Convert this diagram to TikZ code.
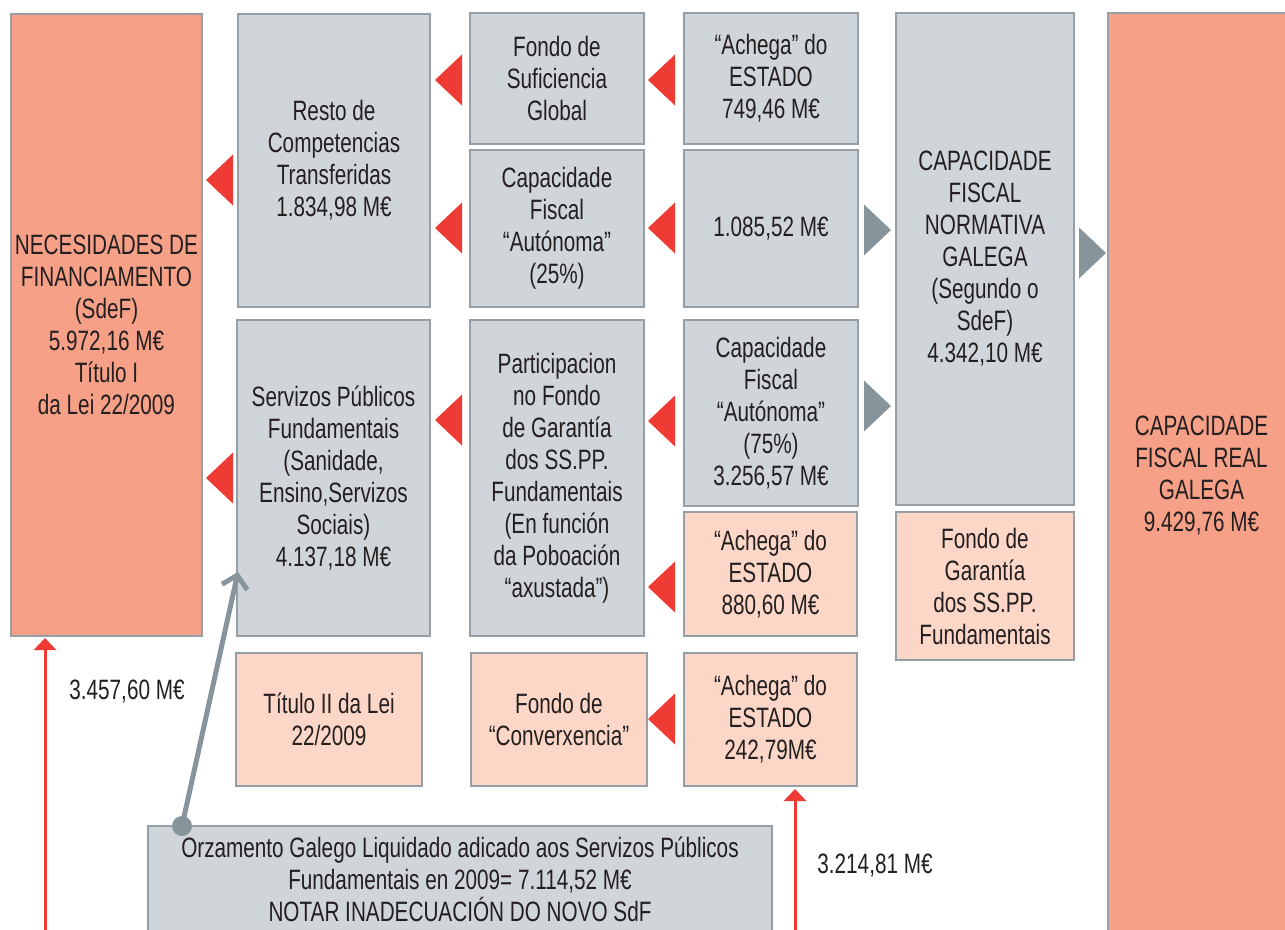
\documentclass[tikz,border=0pt]{standalone}
\usepackage{fontspec}
\setmainfont{Liberation Sans}[FakeStretch=0.74]
\usetikzlibrary{arrows.meta}

\definecolor{salmon}{HTML}{F6A088}
\definecolor{lightsalmon}{HTML}{FCD6C7}
\definecolor{greyfill}{HTML}{D0D5D9}
\definecolor{edge}{HTML}{969FA5}
\definecolor{redtri}{HTML}{EE3B33}
\definecolor{greytri}{HTML}{87949B}
\definecolor{txt}{HTML}{231F20}

\newcommand{\boxfont}{\fontsize{28}{32}\selectfont}

\begin{document}
\begin{tikzpicture}[x = 1pt, y = -1pt,
  box/.style = {draw = edge, line width = 1.5pt, text = txt, font = \boxfont, align = center, inner sep = 0pt},
  grey/.style = {box, fill = greyfill},
  dark/.style = {box, fill = salmon},
  light/.style = {box, fill = lightsalmon},
  label/.style = {text = txt, font = \boxfont, inner sep = 0pt},
  lefttri/.pic = {\fill [redtri] (0,0) -- (27,-25.5) -- (27,25.5) -- cycle;},
  righttri/.pic = {\fill [greytri] (0,0) -- (-27,-25.5) -- (-27,25.5) -- cycle;},
  span/.style = {draw = redtri, line width = 3pt, >={Triangle[length=12pt,width=22pt]}, <->},
  pointer/.style = {draw = greytri, line width = 5pt, >={Straight Barb[length=12pt,width=26pt]}, ->}
]

\useasboundingbox (0,0) rectangle (1285,929);
\clip (0,0) rectangle (1285,929);

\node [dark, minimum width = 191, minimum height = 622] (v1) at (106.5,325) {NECESIDADES DE\\FINANCIAMENTO\\(SdeF)\\5.972,16 M€\\Título I\\da Lei 22/2009};

\node [grey, minimum width = 192, minimum height = 293] (v2) at (334,160.5) {Resto de\\Competencias\\Transferidas\\1.834,98 M€};
\node [grey, minimum width = 193, minimum height = 316] (v9) at (333.5,478) {Servizos Públicos\\Fundamentais\\(Sanidade,\\Ensino,Servizos\\Sociais)\\4.137,18 M€};
\node [light, minimum width = 186, minimum height = 133] (v14) at (329,719.5) {Título II da Lei\\22/2009};

\node [grey, minimum width = 174, minimum height = 131] (v3) at (557,78.5) {Fondo de\\Suficiencia\\Global};
\node [grey, minimum width = 174, minimum height = 157] (v5) at (557,228.5) {Capacidade\\Fiscal\\“Autónoma”\\(25\%)};
\node [grey, minimum width = 174, minimum height = 316] (v10) at (557,478) {Participacion\\no Fondo\\de Garantía\\dos SS.PP.\\Fundamentais\\(En función\\da Poboación\\“axustada”)};
\node [light, minimum width = 176, minimum height = 133] (v15) at (559,719.5) {Fondo de\\“Converxencia”};

\node [grey, minimum width = 174, minimum height = 131] (v4) at (771,78.5) {“Achega” do\\ESTADO\\749,46 M€};
\node [grey, minimum width = 174, minimum height = 157] (v6) at (771,228.5) {1.085,52 M€};
\node [grey, minimum width = 174, minimum height = 186] (v11) at (771,413) {Capacidade\\Fiscal\\“Autónoma”\\(75\%)\\3.256,57 M€};
\node [light, minimum width = 173, minimum height = 124] (v12) at (770.5,574) {“Achega” do\\ESTADO\\880,60 M€};
\node [light, minimum width = 173, minimum height = 133] (v16) at (770.5,719.5) {“Achega” do\\ESTADO\\242,79M€};

\node [grey, minimum width = 178, minimum height = 492] (v7) at (985,259) {CAPACIDADE\\FISCAL\\NORMATIVA\\GALEGA\\(Segundo o\\SdeF)\\4.342,10 M€};
\node [light, minimum width = 178, minimum height = 148] (v13) at (985,586) {Fondo de\\Garantía\\dos SS.PP.\\Fundamentais};

\node [dark, minimum width = 187, minimum height = 926] (v8) at (1201.5,476) {CAPACIDADE\\FISCAL REAL\\GALEGA\\9.429,76 M€};

\node [grey, minimum width = 624, minimum height = 106] (v17) at (460,879) {Orzamento Galego Liquidado adicado aos Servizos Públicos\\Fundamentais en 2009= 7.114,52 M€\\NOTAR INADECUACIÓN DO NOVO SdF};

\node [label] (v18) at (127,692) {3.457,60 M€};
\node [label] (v19) at (875,866) {3.214,81 M€};

\pic at (435,80) {lefttri};
\pic at (648,80) {lefttri};
\pic at (206,180) {lefttri};
\pic at (435,228) {lefttri};
\pic at (648,228) {lefttri};
\pic at (435,420) {lefttri};
\pic at (206,478) {lefttri};
\pic at (648,421) {lefttri};
\pic at (648,587) {lefttri};
\pic at (648,719) {lefttri};

\pic at (891,230) {righttri};
\pic at (1106,253) {righttri};
\pic at (891,406) {righttri};

\coordinate (c1) at (45,638);
\coordinate (c2) at (45,946);
\coordinate (c3) at (795,789);
\coordinate (c4) at (795,946);
\coordinate (c5) at (182,826);
\coordinate (c6) at (238,572);

\draw [span] (c1) -- (c2);
\draw [span] (c3) -- (c4);

\draw [pointer] (c5) -- (c6);
\fill [greytri] (c5) circle (10);

\end{tikzpicture}
\end{document}
